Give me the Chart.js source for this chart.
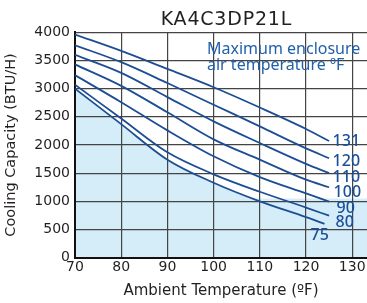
<!DOCTYPE html>
<html><head><meta charset="utf-8">
<script src="https://cdn.jsdelivr.net/npm/chart.js@4.4.0/dist/chart.umd.min.js"></script>
<style>html,body{margin:0;padding:0;background:#fff;overflow:hidden}#wrap{width:367px;height:303px;position:relative}</style>
</head><body><div id="wrap"><canvas id="c" width="367" height="303"></canvas></div>
<script>
// ---- data ----
const TITLE = 'KA4C3DP21L';
const X_LABEL = 'Ambient Temperature (ºF)';
const Y_LABEL = 'Cooling Capacity (BTU/H)';
const NOTE = ['Maximum enclosure', 'air temperature ºF'];
const X_TICKS = [70, 80, 90, 100, 110, 120, 130];
const Y_TICKS = [0, 500, 1000, 1500, 2000, 2500, 3000, 3500, 4000];
const AMBIENT = [70, 80, 90, 100, 110, 120, 125];
const AMBIENT_75 = [70, 80, 90, 100, 110, 120, 124];
const SERIES_NAMES = ['131', '120', '110', '100', '90', '80', '75'];
const CAP_131 = [3960, 3670, 3350, 3025, 2665, 2285, 2070];
const CAP_120 = [3770, 3470, 3100, 2715, 2330, 1940, 1765];
const CAP_110 = [3600, 3280, 2850, 2420, 2035, 1665, 1500];
const CAP_100 = [3430, 3050, 2580, 2100, 1740, 1385, 1250];
const CAP_90  = [3240, 2760, 2260, 1800, 1430, 1140, 995];
const CAP_80  = [3070, 2470, 1870, 1480, 1170, 890, 745];
const CAP_75  = [3000, 2370, 1740, 1330, 1000, 720, 600];
const SHADE_LEVEL = 1050;   // flat shaded band on the right
const X_MIN = 70, X_MAX = 133.2, Y_MIN = 0, Y_MAX = 4000;

// ---- styles ----
const LINE_COLOR = '#1d4e94';
const FILL_COLOR = '#d4edf9';
const LABEL_COLOR = '#1a4f9a';
const NOTE_COLOR = '#2260aa';
const TEXT_COLOR = '#231f20';
const GRID_COLOR = '#444';
// label offsets (px) from each line's end point
const LABEL_OFFSETS = [[3.5, 5], [3.5, 7.7], [3.5, 9], [4.5, 9.4], [7.5, 11.6], [6.5, 11.6], [-14, 16.6]];

const seriesY = [CAP_131, CAP_120, CAP_110, CAP_100, CAP_90, CAP_80, CAP_75];
const seriesX = [AMBIENT, AMBIENT, AMBIENT, AMBIENT, AMBIENT, AMBIENT, AMBIENT_75];

const datasets = seriesY.map((ys, i) => ({
  label: SERIES_NAMES[i],
  data: ys.map((y, j) => ({x: seriesX[i][j], y})),
  borderColor: LINE_COLOR,
  borderWidth: 1.8,
  pointRadius: 0,
  cubicInterpolationMode: 'monotone',
  fill: SERIES_NAMES[i] === '75' ? 'origin' : false,
  backgroundColor: FILL_COLOR,
  order: i
}));
datasets.push({
  label: 'shade',
  data: [{x: X_MIN, y: SHADE_LEVEL}, {x: X_MAX, y: SHADE_LEVEL}],
  borderWidth: 0,
  borderColor: 'rgba(0,0,0,0)',
  pointRadius: 0,
  fill: 'origin',
  backgroundColor: FILL_COLOR,
  order: 10
});

const textPlugin = {
  id: 'texts',
  afterDraw(chart) {
    const ctx = chart.ctx;
    const xs = chart.scales.x, ys = chart.scales.y;
    ctx.save();
    // title
    ctx.fillStyle = TEXT_COLOR;
    ctx.font = '19px "DejaVu Sans"';
    ctx.textAlign = 'center';
    ctx.textBaseline = 'alphabetic';
    if ('letterSpacing' in ctx) ctx.letterSpacing = '0.8px';
    ctx.fillText(TITLE, 226.4, 24.5);
    if ('letterSpacing' in ctx) ctx.letterSpacing = '0px';
    // note
    ctx.fillStyle = NOTE_COLOR;
    ctx.font = '16px "Noto Sans"';
    ctx.textAlign = 'left';
    ctx.fillText(NOTE[0], 207, 54);
    ctx.fillText(NOTE[1], 207, 70);
    // series labels
    ctx.fillStyle = LABEL_COLOR;
    ctx.font = '500 16px "Noto Sans"';
    seriesY.forEach((arr, i) => {
      const n = arr.length - 1;
      const px = xs.getPixelForValue(seriesX[i][n]);
      const py = ys.getPixelForValue(arr[n]);
      ctx.fillText(SERIES_NAMES[i], px + LABEL_OFFSETS[i][0], py + LABEL_OFFSETS[i][1]);
    });
    ctx.restore();
  }
};

new Chart(document.getElementById('c'), {
  type: 'line',
  data: {datasets},
  plugins: [textPlugin],
  options: {
    responsive: false,
    animation: false,
    devicePixelRatio: 1,
    layout: {padding: {top: 32.3, right: 0, left: 0, bottom: 0}},
    plugins: {
      legend: {display: false},
      tooltip: {enabled: false},
      filler: {drawTime: 'beforeDraw'}
    },
    scales: {
      x: {
        type: 'linear', min: X_MIN, max: X_MAX,
        afterBuildTicks: s => { s.ticks = X_TICKS.map(v => ({value: v})); },
        afterFit: s => { s.height = 45.3; },
        ticks: {font: {family: 'DejaVu Sans', size: 14}, color: TEXT_COLOR, padding: 1, maxRotation: 0, autoSkip: false,
                callback: v => String(v)},
        grid: {color: GRID_COLOR, lineWidth: 1.2, drawTicks: false},
        border: {color: '#111', width: 2},
        title: {display: true, text: X_LABEL, color: TEXT_COLOR, font: {family: 'DejaVu Sans', size: 15}, padding: {top: 0, bottom: 3}}
      },
      y: {
        type: 'linear', min: Y_MIN, max: Y_MAX,
        afterBuildTicks: s => { s.ticks = Y_TICKS.map(v => ({value: v})); },
        afterFit: s => { s.width = 75; },
        ticks: {font: {family: 'DejaVu Sans', size: 14}, color: TEXT_COLOR, padding: 5,
                callback: v => String(v)},
        grid: {color: GRID_COLOR, lineWidth: 1.2, drawTicks: false},
        border: {color: '#111', width: 2},
        title: {display: true, text: Y_LABEL, color: TEXT_COLOR, font: {family: 'DejaVu Sans', size: 14.5}, padding: {top: 3, bottom: 0}}
      }
    }
  }
});
</script>
</body></html>
